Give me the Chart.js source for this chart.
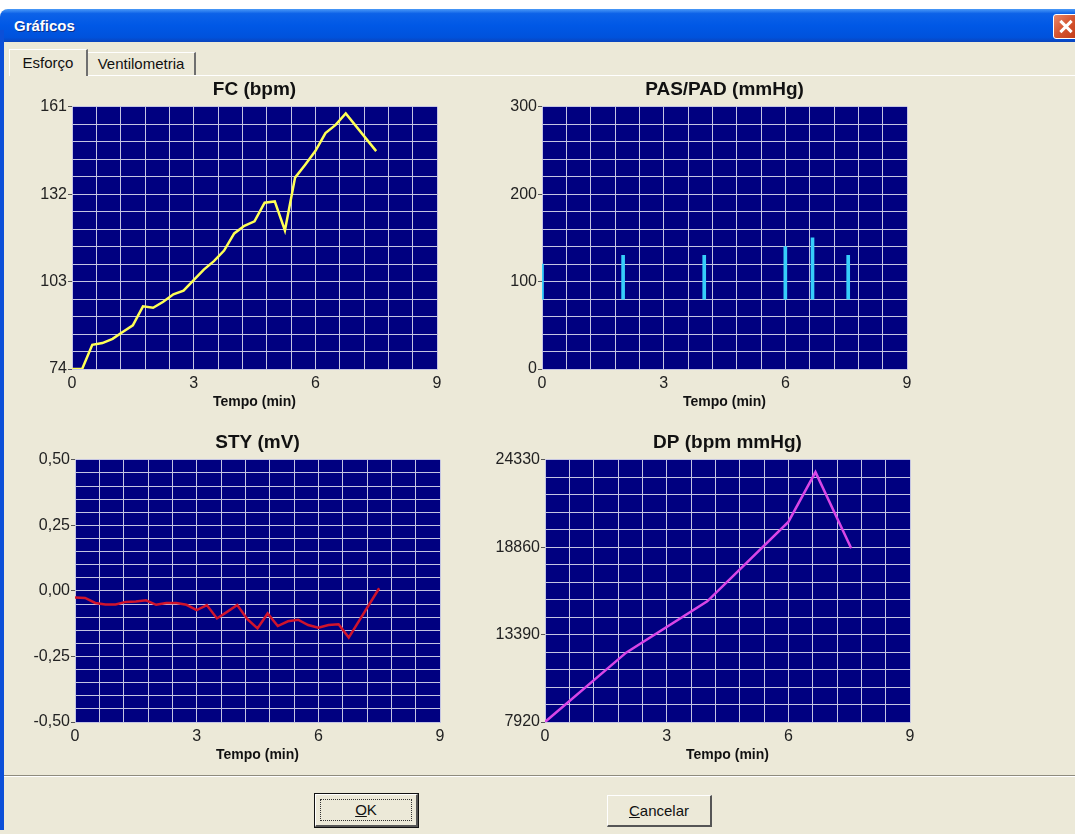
<!DOCTYPE html>
<html>
<head>
<meta charset="utf-8">
<title>Gráficos</title>
<script src="https://cdn.jsdelivr.net/npm/chart.js@4.4.0/dist/chart.umd.min.js"></script>
<style>
html, body { margin: 0; padding: 0; }
body { width: 1075px; height: 834px; overflow: hidden; background: #fff; position: relative; font-family: "Liberation Sans", Arial, sans-serif; }
.janela { position: absolute; left: 0; top: 9px; width: 1100px; height: 825px; background: #ece9d8; border-radius: 8px 8px 0 0; overflow: hidden; }
.borda-esq { position: absolute; left: 0; top: 30px; width: 4px; height: 800px; background: #0b4fd8; }
.barra { position: absolute; left: 0; top: 0; width: 100%; height: 33px;
  background: linear-gradient(to bottom, #4b9af7 0%, #0c62e8 14%, #0058e6 50%, #0052dc 86%, #0a44bd 100%); }
.barra span { position: absolute; left: 14px; top: 8px; color: #fff; font-weight: bold; font-size: 15px; text-shadow: 1px 1px 0 #0a2f8a; }
.fechar { position: absolute; left: 1053px; top: 5px; width: 24px; height: 23px; border: 1px solid #fff; border-radius: 3px;
  background: linear-gradient(135deg, #e8876a 0%, #d4532e 50%, #c13b17 100%); }
.fechar:before, .fechar:after { content: ""; position: absolute; left: 4px; top: 10px; width: 16px; height: 3px; background: #fff; }
.fechar:before { transform: rotate(45deg); }
.fechar:after { transform: rotate(-45deg); }
.aba { position: absolute; box-sizing: border-box; font-size: 15px; color: #111; text-align: center;
  border-top: 1px solid #fff; border-left: 1px solid #fff; border-right: 2px solid #6f6f6f; }
.aba.ativa { left: 9px; top: 40px; width: 79px; height: 27px; line-height: 25px; }
.aba.outra { left: 88px; top: 43px; width: 108px; height: 23px; line-height: 22px; border-left: none; }
.painel { position: absolute; left: 88px; top: 66px; width: 1000px; height: 1px; background: #fff; }
canvas { position: absolute; }
.sep { position: absolute; left: 4px; top: 775px; width: 1075px; height: 1px; background: #8e8b7e; border-bottom: 1px solid #fff; }
.botao { position: absolute; box-sizing: border-box; font-size: 15px; color: #111; text-align: center; background: #ece9d8;
  border-top: 1px solid #fff; border-left: 1px solid #fff; border-right: 2px solid #555; border-bottom: 2px solid #555; }
.botao.ok { left: 315px; top: 794px; width: 103px; height: 33px; line-height: 29px; outline: 1px solid #111; }
.botao.ok i { position: absolute; left: 4px; top: 4px; right: 4px; bottom: 4px; border: 1px dotted #333; }
.botao.cancel { left: 607px; top: 795px; width: 105px; height: 32px; line-height: 29px; }
</style>
</head>
<body>
<div class="janela">
  <div class="barra"><span>Gráficos</span><div class="fechar"></div></div>
  <div class="aba ativa">Esforço</div>
  <div class="aba outra">Ventilometria</div>
  <div class="painel"></div>
</div>
<div class="borda-esq"></div>

<canvas id="fc" width="460" height="340" style="left:0px; top:78px"></canvas>
<canvas id="pas" width="460" height="340" style="left:470px; top:78px"></canvas>
<canvas id="sty" width="470" height="340" style="left:0px; top:431px"></canvas>
<canvas id="dp" width="460" height="340" style="left:470px; top:431px"></canvas>

<div class="sep"></div>
<div class="botao ok"><i></i><u>O</u>K</div>
<div class="botao cancel"><u>C</u>ancelar</div>

<script>
// eixo do tempo (min)
const tempoEixo = [0, 3, 6, 9];

// FC (bpm)
const fcTempo = [0, 0.25, 0.5, 0.75, 1, 1.25, 1.5, 1.75, 2, 2.25, 2.5, 2.75, 3, 3.25, 3.5, 3.75, 4, 4.25, 4.5, 4.75, 5, 5.25, 5.5, 5.75, 6, 6.25, 6.5, 6.75, 7.5];
const fcValores = [74, 74, 82, 82.6, 84, 86.3, 88.5, 94.8, 94.3, 96.3, 98.8, 100, 103.5, 107, 109.8, 113.3, 119, 121.5, 123, 129.2, 129.6, 120, 137.5, 141.8, 146.3, 152.3, 155, 158.8, 146.3];
const fcEixo = [74, 103, 132, 161];

// PAS/PAD (mmHg)
const pasTempo = [0, 2, 4, 6, 6.67, 7.55];
const pas = [120, 130, 130, 140, 150, 130];
const pad = [80, 80, 80, 80, 80, 80];
const pasEixo = [0, 100, 200, 300];

// STY (mV)
const styTempo = [0, 0.25, 0.5, 0.75, 1, 1.25, 1.5, 1.75, 2, 2.25, 2.5, 2.75, 3, 3.25, 3.5, 3.75, 4, 4.25, 4.5, 4.75, 5, 5.25, 5.5, 5.75, 6, 6.25, 6.5, 6.75, 7.5];
const styValores = [-0.025, -0.027, -0.046, -0.052, -0.052, -0.042, -0.040, -0.036, -0.053, -0.046, -0.046, -0.053, -0.073, -0.054, -0.105, -0.080, -0.054, -0.108, -0.143, -0.086, -0.134, -0.116, -0.110, -0.130, -0.140, -0.130, -0.127, -0.178, 0.010];
const styEixo = [-0.5, -0.25, 0, 0.25, 0.5];

// DP (bpm mmHg)
const dpTempo = [0, 2, 4, 6, 6.67, 7.55];
const dpValores = [7920, 12260, 15470, 20440, 23560, 18800];
const dpEixo = [7920, 13390, 18860, 24330];

const SUBDIV = 5;
const GRADE = '#c4c4e2';
const FUNDO = '#000080';
const FONTE_NUM = { family: '"Liberation Sans", Arial', size: 16 };

function gradeTicks(eixo) {
    const ticks = [];
    for (let i = 0; i < eixo.length - 1; i++) {
        const passo = (eixo[i + 1] - eixo[i]) / SUBDIV;
        for (let k = 0; k < SUBDIV; k++) ticks.push({ value: eixo[i] + passo * k });
    }
    ticks.push({ value: eixo[eixo.length - 1] });
    return ticks;
}

const fundoPlot = {
    id: 'fundoPlot',
    beforeDraw(chart) {
        const { ctx, chartArea: a } = chart;
        ctx.save();
        ctx.fillStyle = FUNDO;
        ctx.fillRect(a.left, a.top, a.width, a.height);
        ctx.restore();
    }
};

function eixoX() {
    return {
        type: 'linear',
        min: tempoEixo[0],
        max: tempoEixo[tempoEixo.length - 1],
        offset: false,
        afterBuildTicks: function (s) { s.ticks = gradeTicks(tempoEixo); },
        afterFit: function (s) { s.height = 42; },
        ticks: {
            autoSkip: false, maxRotation: 0, minRotation: 0, padding: 1,
            color: '#222', font: FONTE_NUM,
            callback: function (v, i) { return i % SUBDIV === 0 ? String(Math.round(v)) : ''; }
        },
        grid: { offset: false, color: GRADE, lineWidth: 1, tickLength: 4, tickColor: 'transparent' },
        border: { color: GRADE },
        title: {
            display: true, text: 'Tempo (min)', color: '#111',
            font: { family: '"Liberation Sans", Arial', size: 14, weight: 'bold' },
            padding: { top: 0, bottom: 0 }
        }
    };
}

function eixoY(eixo, fmt) {
    return {
        type: 'linear',
        min: eixo[0],
        max: eixo[eixo.length - 1],
        afterBuildTicks: function (s) { s.ticks = gradeTicks(eixo); },
        afterFit: function (s) { s.width = 52; },
        ticks: {
            autoSkip: false, padding: 1, color: '#222', font: FONTE_NUM,
            callback: function (v, i) { return i % SUBDIV === 0 ? fmt(v) : ''; }
        },
        grid: {
            color: GRADE, lineWidth: 1, tickLength: 4,
            tickColor: function (c) { return c.index % SUBDIV === 0 ? '#555' : 'transparent'; }
        },
        border: { color: GRADE }
    };
}

const inteiro = v => String(Math.round(v));
const decimal = v => (Math.abs(v) < 1e-9 ? 0 : v).toFixed(2).replace('.', ',');

function opcoes(titulo, yEixo, padding) {
    return {
        responsive: false,
        animation: false,
        layout: { padding: padding },
        plugins: {
            legend: { display: false },
            tooltip: { enabled: false },
            title: {
                display: true, text: titulo, fullSize: false, color: '#111',
                font: { family: '"Liberation Sans", Arial', size: 19, weight: 'bold', lineHeight: 1.2 },
                padding: { top: 0, bottom: 6 }
            }
        },
        scales: { x: eixoX(), y: yEixo }
    };
}

const pontos = (xs, ys) => xs.map((x, i) => ({ x: x, y: ys[i] }));

new Chart(document.getElementById('fc'), {
    type: 'line',
    data: { datasets: [{ data: pontos(fcTempo, fcValores), borderColor: '#ffff55', borderWidth: 2.5, pointRadius: 0, tension: 0 }] },
    options: opcoes('FC (bpm)', eixoY(fcEixo, inteiro), { left: 20, top: 0, right: 23, bottom: 7 }),
    plugins: [fundoPlot]
});

new Chart(document.getElementById('pas'), {
    type: 'bar',
    data: { datasets: [{ data: pasTempo.map((t, i) => ({ x: t, y: [pad[i], pas[i]] })), backgroundColor: '#36cdfa', barThickness: 3, borderWidth: 0 }] },
    options: opcoes('PAS/PAD (mmHg)', eixoY(pasEixo, inteiro), { left: 20, top: 0, right: 23, bottom: 7 }),
    plugins: [fundoPlot]
});

new Chart(document.getElementById('sty'), {
    type: 'line',
    data: { datasets: [{ data: pontos(styTempo, styValores), borderColor: '#d0142c', borderWidth: 2.5, pointRadius: 0, tension: 0 }] },
    options: opcoes('STY (mV)', eixoY(styEixo, decimal), { left: 23, top: 0, right: 30, bottom: 7 }),
    plugins: [fundoPlot]
});

new Chart(document.getElementById('dp'), {
    type: 'line',
    data: { datasets: [{ data: pontos(dpTempo, dpValores), borderColor: '#d846e6', borderWidth: 2.5, pointRadius: 0, tension: 0 }] },
    options: opcoes('DP (bpm mmHg)', eixoY(dpEixo, inteiro), { left: 23, top: 0, right: 20, bottom: 7 }),
    plugins: [fundoPlot]
});
</script>
</body>
</html>
